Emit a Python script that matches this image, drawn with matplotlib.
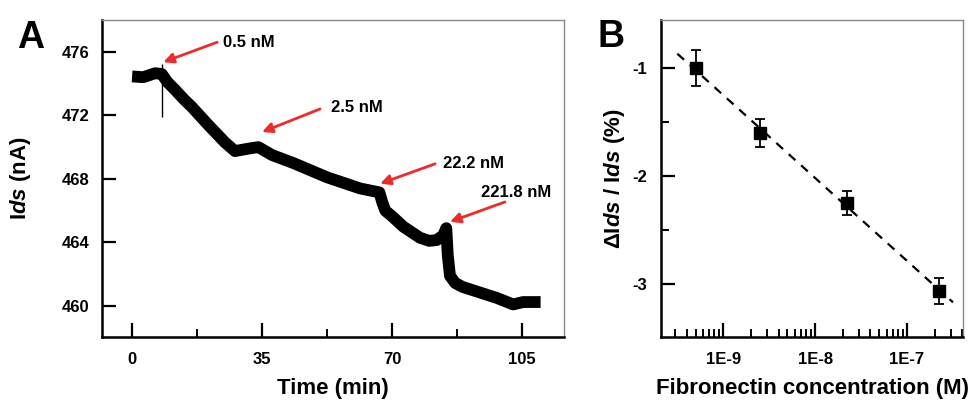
import numpy as np
import matplotlib
matplotlib.use('Agg')
import matplotlib.pyplot as plt
from matplotlib.ticker import LogLocator, FixedLocator, FuncFormatter, NullFormatter

plt.rcParams['font.family'] = ['Liberation Sans', 'DejaVu Sans']
plt.rcParams['font.weight'] = 'bold'
plt.rcParams['mathtext.fontset'] = 'custom'
plt.rcParams['mathtext.it'] = 'Liberation Sans:italic:bold'
plt.rcParams['mathtext.rm'] = 'Liberation Sans:bold'
plt.rcParams['mathtext.bf'] = 'Liberation Sans:bold'
plt.rcParams['lines.scale_dashes'] = False

# panel A: current trace
time_min = [0, 3, 6.2, 8.0, 9.5, 11.6, 14, 16.2, 20.5, 25, 27.7, 31.2, 34, 37.7,
            43.4, 52.5, 61.4, 66.6, 67.4, 68.2, 70, 73, 77.5, 80, 82, 83.8, 84.6,
            85.0, 85.6, 87, 89, 93, 98.3, 102.6, 105.3, 110]
ids_na = [474.45, 474.4, 474.65, 474.6, 474.1, 473.6, 473.0, 472.5, 471.4, 470.3,
          469.75, 469.9, 470.0, 469.5, 469.0, 468.1, 467.4, 467.15, 466.5, 466.0,
          465.65, 465.0, 464.3, 464.1, 464.15, 464.45, 464.9, 463.2, 461.9, 461.45,
          461.2, 460.9, 460.5, 460.1, 460.25, 460.25]
spike_t = 8.0
spike_range = [471.9, 475.2]

add_labels = ['0.5 nM', '2.5 nM', '22.2 nM', '221.8 nM']
arrow_tips = [(8.4, 475.35), (35.0, 470.95), (66.8, 467.7), (85.6, 465.3)]
arrow_tails = [(22.9, 476.6), (50.6, 472.4), (81.6, 468.95), (100.4, 466.55)]
label_pos = [(24.5, 476.6), (53.6, 472.5), (83.7, 469.0), (94.0, 467.15)]

# panel B: calibration
conc_m = [5e-10, 2.5e-9, 2.22e-8, 2.218e-7]
rel_change = [-1.0, -1.6, -2.25, -3.06]
rel_err = [0.17, 0.13, 0.11, 0.12]

fig = plt.figure(figsize=(9.75, 4.01), dpi=100)
axA = fig.add_axes([102 / 975, 64 / 401, 462 / 975, 317 / 401])
axB = fig.add_axes([661 / 975, 64 / 401, 302 / 975, 317 / 401])

for ax in (axA, axB):
    for s in ('left', 'bottom'):
        ax.spines[s].set_linewidth(1.8)
        ax.spines[s].set_color('black')
    for s in ('top', 'right'):
        ax.spines[s].set_linewidth(1.0)
        ax.spines[s].set_color('#8a8a8a')
    ax.tick_params(which='major', direction='in', length=10, width=1.6, labelsize=12)
    ax.tick_params(which='minor', direction='in', length=6, width=1.4)

# --- A ---
axA.plot(time_min, ids_na, color='black', lw=8.5, solid_joinstyle='round',
         solid_capstyle='butt')
axA.vlines(spike_t, spike_range[0], spike_range[1], color='black', lw=1.0)
for lab, tip, tail, pos in zip(add_labels, arrow_tips, arrow_tails, label_pos):
    axA.annotate('', xy=tip, xytext=tail,
                 arrowprops=dict(arrowstyle='-|>', color='#ee2a2a', lw=2,
                                 mutation_scale=15, shrinkA=0, shrinkB=0))
    axA.text(pos[0], pos[1], lab, fontsize=12, fontweight='bold',
             ha='left', va='center')

axA.set_xlim(-8.1, 116.3)
axA.set_ylim(458.05, 478.0)
axA.xaxis.set_major_locator(FixedLocator([0, 35, 70, 105]))
axA.xaxis.set_minor_locator(FixedLocator([17.5, 52.5, 87.5]))
axA.yaxis.set_major_locator(FixedLocator([460, 464, 468, 472, 476]))
axA.tick_params(axis='x', pad=11)
axA.tick_params(axis='y', pad=9)
axA.set_xlabel('Time (min)', fontsize=16, fontweight='bold')
axA.set_ylabel('I$\\mathit{ds}$ (nA)', fontsize=16, fontweight='bold')
axA.xaxis.set_label_coords(0.5, -0.13)
axA.yaxis.set_label_coords(-0.149, 0.5)

# --- B ---
axB.errorbar(conc_m, rel_change, yerr=rel_err, fmt='s', color='black',
             ms=8, elinewidth=1.3, capsize=3.5, capthick=1.3)
fit = np.polyfit(np.log10(conc_m), rel_change, 1)
fit_lx = np.array([-9.5, -6.5])
axB.plot(10 ** fit_lx, np.polyval(fit, fit_lx), color='black', lw=1.6,
         dashes=(6.5, 5.5))
axB.set_xscale('log')
axB.set_xlim(2.1e-10, 4.07e-7)
axB.set_ylim(-3.49, -0.555)
axB.xaxis.set_major_locator(FixedLocator([1e-9, 1e-8, 1e-7]))
axB.xaxis.set_minor_locator(LogLocator(base=10, subs=np.arange(2, 10)))
axB.xaxis.set_minor_formatter(NullFormatter())
axB.xaxis.set_major_formatter(FuncFormatter(lambda v, p: '1E%d' % round(np.log10(v))))
axB.yaxis.set_major_locator(FixedLocator([-1, -2, -3]))
axB.yaxis.set_minor_locator(FixedLocator([-1.5, -2.5]))
axB.yaxis.set_major_formatter(FuncFormatter(lambda v, p: '%d' % v))
axB.tick_params(axis='x', pad=11)
axB.tick_params(axis='y', pad=10)
axB.set_xlabel('Fibronectin concentration (M)', fontsize=16, fontweight='bold')
axB.set_ylabel('\u0394I$\\mathit{ds}$ / I$\\mathit{ds}$ (%)', fontsize=16,
               fontweight='bold')
axB.xaxis.set_label_coords(0.5, -0.13)
axB.yaxis.set_label_coords(-0.113, 0.5)

fig.text(17 / 975, 1 - 48 / 401, 'A', fontsize=27, fontweight='bold', va='baseline')
fig.text(597 / 975, 1 - 47 / 401, 'B', fontsize=27, fontweight='bold', va='baseline')

fig.savefig('out.png', dpi=100)
